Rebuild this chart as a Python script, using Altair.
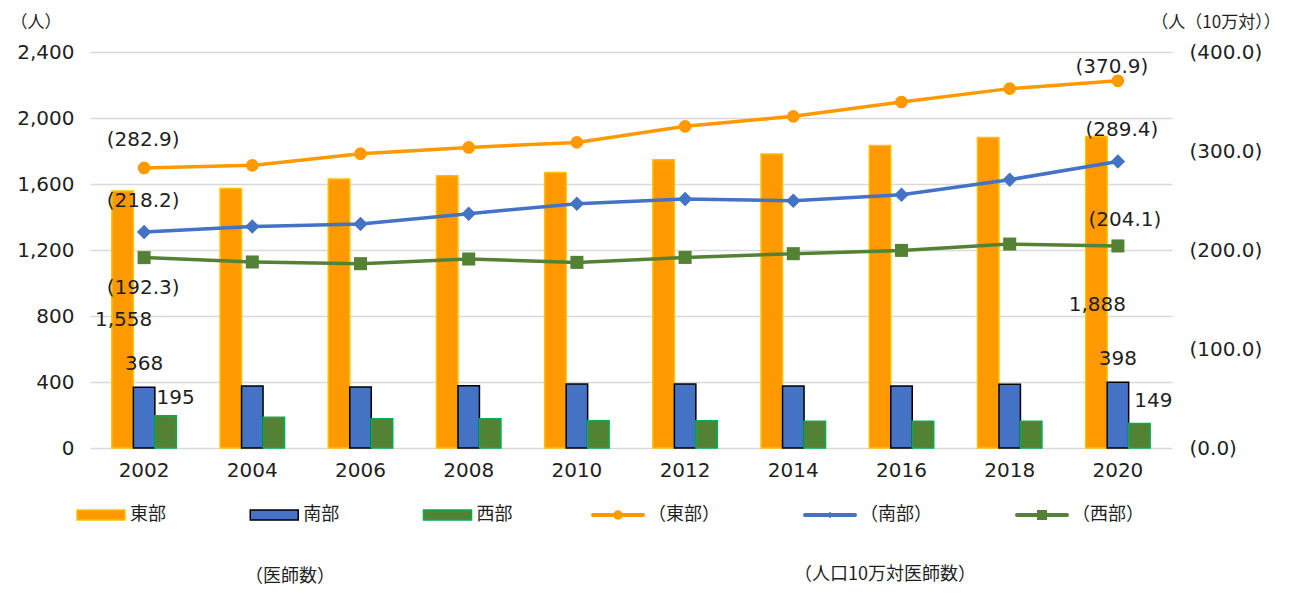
import altair as alt
import pandas as pd

# ---------------- data ----------------
years = ["2002", "2004", "2006", "2008", "2010", "2012", "2014", "2016", "2018", "2020"]
regions = ["東部", "南部", "西部"]
rate_series = ["（東部）", "（南部）", "（西部）"]

east_doctors = [1558, 1572, 1630, 1650, 1670, 1747, 1782, 1834, 1882, 1888]
south_doctors = [368, 376, 369, 378, 388, 388, 376, 376, 386, 398]
west_doctors = [195, 187, 177, 177, 165, 165, 162, 162, 162, 149]

east_rate = [282.9, 285.5, 297.3, 303.6, 308.7, 324.9, 335.0, 349.5, 363.0, 370.9]
south_rate = [218.2, 223.8, 226.3, 236.7, 246.8, 251.5, 249.8, 255.9, 271.0, 289.4]
west_rate = [192.3, 187.9, 186.2, 190.9, 187.5, 192.5, 196.3, 199.6, 206.0, 204.1]

left_ticks = [0, 400, 800, 1200, 1600, 2000, 2400]
right_ticks = [0, 100, 200, 300, 400]
texts = ["（人）", "（人（10万対））", "（医師数）", "（人口10万対医師数）"]

# ---------------- styles ----------------
FONT_NUM = "DejaVu Sans"
FONT_JP = "Noto Sans CJK JP"
TXT = "#1f1f1f"
bar_fill = ["#FF9900", "#4472C4", "#548235"]
bar_stroke = ["#FFC000", "#000000", "#00B050"]
line_color = ["#FF9900", "#4472C4", "#548235"]
marker_shape = ["circle", "diamond", "square"]
marker_size = [160, 210, 170]
legend_marker_size = [90, 45, 100]

# ---------------- tables ----------------
bars_df = pd.DataFrame(
    [{"year": y, "region": r, "value": v}
     for r, vals in zip(regions, [east_doctors, south_doctors, west_doctors])
     for y, v in zip(years, vals)]
)
rate_df = pd.DataFrame(
    [{"year": y, "series": s, "rate": v}
     for s, vals in zip(rate_series, [east_rate, south_rate, west_rate])
     for y, v in zip(years, vals)]
)
rate_df["label"] = ["(" + f"{v:.1f}" + ")" for v in rate_df["rate"]]

# ---------------- encodings ----------------
x_scale = alt.Scale(domain=years, paddingInner=0.404, paddingOuter=0.202)
x_enc = alt.X(
    "year:N", scale=x_scale,
    axis=alt.Axis(title=None, labelAngle=0, labelFont=FONT_NUM, labelFontSize=20,
                  labelColor=TXT, labelPadding=12, ticks=False, domain=False, grid=False),
)
y_left = alt.Y(
    "value:Q", scale=alt.Scale(domain=[0, 2400], nice=False),
    axis=alt.Axis(orient="left", values=left_ticks,
                  labelExpr="format(datum.value, ',')", title=None,
                  grid=True, gridColor="#D9D9D9", gridWidth=1.5,
                  domain=False, ticks=False, labelPadding=16,
                  labelFont=FONT_NUM, labelFontSize=20, labelColor=TXT),
)
y_right = alt.Y(
    "rate:Q", scale=alt.Scale(domain=[0, 400], nice=False),
    axis=alt.Axis(orient="right", values=right_ticks,
                  labelExpr="'(' + format(datum.value, '.1f') + ')'", title=None,
                  grid=False, domain=False, ticks=False, labelPadding=17,
                  labelFont=FONT_NUM, labelFontSize=20, labelColor=TXT),
)
xoff = alt.XOffset("region:N", scale=alt.Scale(domain=regions))

# ---------------- bars ----------------
bars = alt.Chart(bars_df).mark_bar(strokeWidth=1.5).encode(
    x=x_enc, xOffset=xoff, y=y_left,
    fill=alt.Fill("region:N", scale=alt.Scale(domain=regions, range=bar_fill), legend=None),
    stroke=alt.Stroke("region:N", scale=alt.Scale(domain=regions, range=bar_stroke), legend=None),
)

bar_label_pos = [
    ("2002", "東部", 1, 129), ("2002", "南部", 0, -23), ("2002", "西部", 10, -18),
    ("2020", "東部", 1, 169), ("2020", "南部", 0, -23), ("2020", "西部", 14, -22),
]
bar_labels = [
    alt.Chart(bars_df)
    .transform_filter((alt.datum.year == yr) & (alt.datum.region == rg))
    .mark_text(dx=dx, dy=dy, font=FONT_NUM, fontSize=20, color=TXT, baseline="middle")
    .encode(x=x_enc, xOffset=xoff, y=y_left, text=alt.Text("value:Q", format=","))
    for yr, rg, dx, dy in bar_label_pos
]
bars_group = alt.layer(bars, *bar_labels)

# ---------------- lines ----------------
line_layers = []
for s, c in zip(rate_series, line_color):
    line_layers.append(
        alt.Chart(rate_df).transform_filter(alt.datum.series == s)
        .mark_line(color=c, strokeWidth=3.5).encode(x=x_enc, y=y_right)
    )
point_layers = []
for s, c, sh, sz in zip(rate_series, line_color, marker_shape, marker_size):
    point_layers.append(
        alt.Chart(rate_df).transform_filter(alt.datum.series == s)
        .mark_point(filled=True, color=c, shape=sh, size=sz, opacity=1)
        .encode(x=x_enc, y=y_right)
    )

line_label_pos = [
    ("2002", "（東部）", -1, -28), ("2002", "（南部）", -1, -31), ("2002", "（西部）", -1, 30),
    ("2020", "（東部）", -6, -14), ("2020", "（南部）", 4, -31), ("2020", "（西部）", 7, -26),
]
line_labels = [
    alt.Chart(rate_df)
    .transform_filter((alt.datum.year == yr) & (alt.datum.series == s))
    .mark_text(dx=dx, dy=dy, font=FONT_NUM, fontSize=20, color=TXT, baseline="middle")
    .encode(x=x_enc, y=y_right, text="label:N")
    for yr, s, dx, dy in line_label_pos
]
lines_group = alt.layer(*line_layers, *point_layers, *line_labels)

main = alt.layer(bars_group, lines_group).resolve_scale(y="independent")

# ---------------- custom legend ----------------
leg_bar_df = pd.DataFrame({"item": regions, "idx": [0, 1, 2]})
leg_line_df = pd.DataFrame({"item": rate_series, "idx": [0, 1, 2]})
LEG_Y = 463
xb = alt.X("idx:Q", scale=alt.Scale(domain=[0, 2], range=[11, 357.5]), axis=None)
xl = alt.X("idx:Q", scale=alt.Scale(domain=[0, 2], range=[528, 952]), axis=None)

leg_bars = alt.layer(
    alt.Chart(leg_bar_df).mark_point(
        shape="M-1,-0.21H1V0.21H-1Z", size=2304, filled=True, strokeWidth=1.5, opacity=1
    ).encode(
        x=xb, y=alt.value(LEG_Y),
        fill=alt.Fill("item:N", scale=alt.Scale(domain=regions, range=bar_fill), legend=None),
        stroke=alt.Stroke("item:N", scale=alt.Scale(domain=regions, range=bar_stroke), legend=None),
    ),
    alt.Chart(leg_bar_df).mark_text(
        align="left", dx=29, baseline="middle", font=FONT_JP, fontSize=18, color=TXT
    ).encode(x=xb, y=alt.value(LEG_Y), text="item:N"),
)

leg_line_layers = []
for s, c, sh, sz in zip(rate_series, line_color, marker_shape, legend_marker_size):
    leg_line_layers.append(
        alt.Chart(leg_line_df).transform_filter(alt.datum.item == s)
        .mark_point(shape="M-1,0H1", size=2500, filled=False, color=c, strokeWidth=4,
                    opacity=1, strokeCap="round")
        .encode(x=xl, y=alt.value(LEG_Y))
    )
    leg_line_layers.append(
        alt.Chart(leg_line_df).transform_filter(alt.datum.item == s)
        .mark_point(shape=sh, size=sz, filled=True, color=c, opacity=1)
        .encode(x=xl, y=alt.value(LEG_Y))
    )
leg_line_layers.append(
    alt.Chart(leg_line_df).mark_text(
        align="left", dx=30, baseline="middle", font=FONT_JP, fontSize=18, color=TXT
    ).encode(x=xl, y=alt.value(LEG_Y), text="item:N")
)
leg_lines = alt.layer(*leg_line_layers)

# ---------------- free texts (axis titles and notes) ----------------
notes_df = pd.DataFrame({"note": texts})
text_place = [
    ("（人）", -54, -29, 17),
    ("（人（10万対））", 1126, -29, 17),
    ("（医師数）", 200, 525, 18),
    ("（人口10万対医師数）", 795, 523, 18),
]
note_layers = [
    alt.Chart(notes_df).transform_filter(alt.datum.note == t)
    .mark_text(font=FONT_JP, fontSize=fs, color=TXT, baseline="middle", align="center")
    .encode(x=alt.value(px), y=alt.value(py), text="note:N")
    for t, px, py, fs in text_place
]

legend = alt.layer(leg_bars, leg_lines, *note_layers).resolve_scale(
    x="independent", fill="independent", stroke="independent"
)

chart = (
    alt.layer(main, legend)
    .resolve_scale(x="independent", y="independent", fill="independent", stroke="independent")
    .properties(
        width=1082, height=396,
        padding={"left": 82, "top": 44, "right": 120, "bottom": 138},
        autosize=alt.AutoSizeParams(type="none"),
        background="white",
    )
    .configure_view(stroke=None)
)

chart.save("out.html", embed_options={"renderer": "svg", "actions": False})
